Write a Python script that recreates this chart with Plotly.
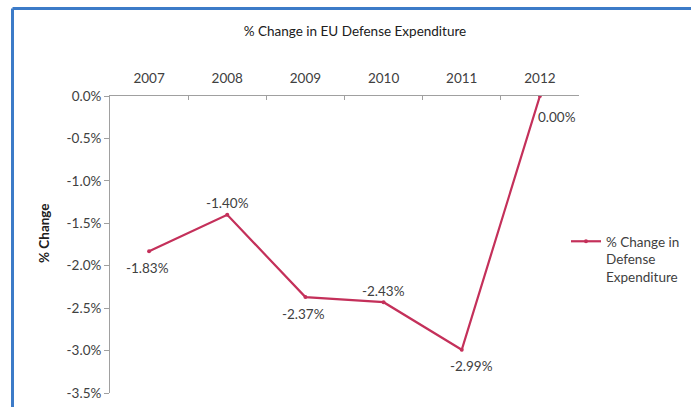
import plotly.graph_objects as go

# Annual % change in EU defense expenditure
years = ["2007", "2008", "2009", "2010", "2011", "2012"]
pct_change = [-1.83, -1.40, -2.37, -2.43, -2.99, 0.00]
y_ticks = [0.0, -0.5, -1.0, -1.5, -2.0, -2.5, -3.0, -3.5]

# where each data label sits relative to its point (dx, dy in px, +dy = down)
label_offsets = [(-2, 17), (0, -12), (-2, 17), (0, -11), (10, 16), (17, 21)]

LINE = "#C4305A"
TXT = "#404040"
FONT = "Lato"
FS = 13.5

fig = go.Figure()
fig.add_trace(go.Scatter(
    x=years, y=pct_change, mode="lines+markers",
    name="% Change in<br>Defense<br>Expenditure",
    line=dict(color=LINE, width=2.2),
    marker=dict(color=LINE, size=4),
))

L, R, T, B = 110, 112, 96, 14
W, H = 691, 407
pw, ph = W - L - R, H - T - B

def px_x(p):
    return (p - L) / pw

def px_y(p):
    return (H - B - p) / ph

annotations = []
for i, (v, (dx, dy)) in enumerate(zip(pct_change, label_offsets)):
    annotations.append(dict(
        xref="x", yref="y", x=i, y=v, text=f"{v:.2f}%", showarrow=False,
        xshift=dx, yshift=-dy, font=dict(family=FONT, size=FS, color=TXT),
    ))

# vertical axis title
annotations.append(dict(
    xref="paper", yref="paper", x=px_x(44), y=px_y(233),
    text="<b>% Change</b>", textangle=-90, showarrow=False,
    xanchor="center", yanchor="middle",
    font=dict(family=FONT, size=FS, color="#202020"),
))

# outer window frame (blue edges on the left and top)
shapes = [
    dict(type="line", xref="paper", yref="paper",
         x0=px_x(12.5), x1=px_x(W + 5), y0=px_y(8.5), y1=px_y(8.5),
         line=dict(color="#3C7BC8", width=3)),
    dict(type="line", xref="paper", yref="paper",
         x0=px_x(12.5), x1=px_x(12.5), y0=px_y(8.5), y1=px_y(H + 5),
         line=dict(color="#3C7BC8", width=3)),
]

fig.update_layout(
    width=W, height=H,
    margin=dict(l=L, r=R, t=T, b=B, autoexpand=False),
    paper_bgcolor="white", plot_bgcolor="white",
    font=dict(family=FONT, size=FS, color=TXT),
    annotations=annotations,
    shapes=shapes,
    title=dict(text="% Change in EU Defense Expenditure",
               x=355 / W, xanchor="center",
               y=1 - 31 / H, yanchor="middle",
               font=dict(family=FONT, size=FS, color="#202020")),
    showlegend=True,
    legend=dict(x=px_x(566), xanchor="left", y=px_y(226), yanchor="top",
                valign="top", font=dict(family=FONT, size=FS, color=TXT),
                bgcolor="rgba(0,0,0,0)", tracegroupgap=0),
    xaxis=dict(
        type="category", side="top", showgrid=False,
        showline=True, linecolor="#A0A0A0", linewidth=1,
        ticks="inside", ticklen=4, tickcolor="#A0A0A0",
        tickson="boundaries", ticklabelstandoff=7,
        tickfont=dict(family=FONT, size=FS, color=TXT),
        range=[-0.5, 5.5], fixedrange=True,
    ),
    yaxis=dict(
        range=[-3.5, 0], tickvals=y_ticks,
        ticktext=[f"{t:.1f}%" for t in y_ticks],
        showgrid=False, zeroline=False,
        showline=True, linecolor="#A0A0A0", linewidth=1,
        ticks="outside", ticklen=5, tickcolor="#A0A0A0",
        tickfont=dict(family=FONT, size=FS, color=TXT),
    ),
)

fig.write_html("out.html")
